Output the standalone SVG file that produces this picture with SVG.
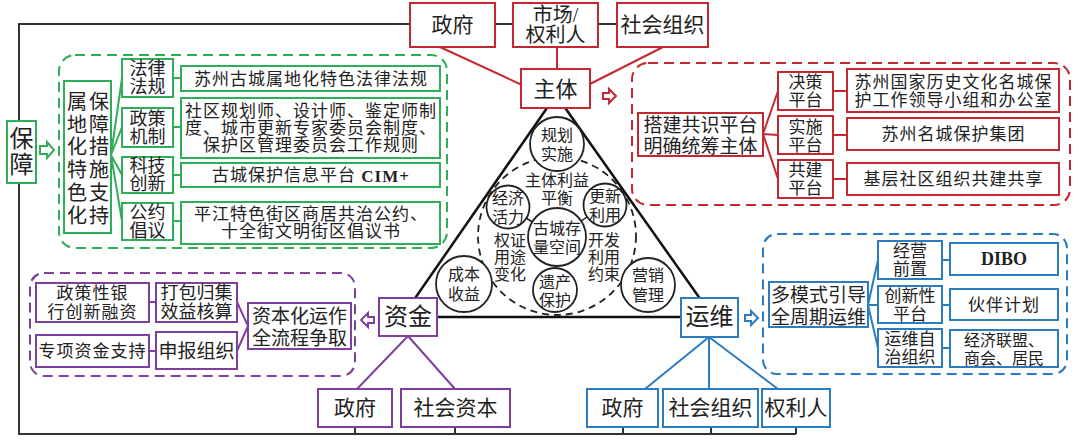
<svg xmlns="http://www.w3.org/2000/svg" width="1080" height="441" viewBox="0 0 1080 441">
<style>
text{font-family:"Liberation Serif","Noto Sans CJK SC",serif;fill:#222;text-anchor:middle;dominant-baseline:central}
.f24{font-size:24px}.f22{font-size:22px}.f21{font-size:21px}.f19{font-size:19px}.f18{font-size:18px}.f17{font-size:17px;letter-spacing:1px}.f16{font-size:16px}.fc{font-size:16px}.fs{font-size:17px}
.lat{font-family:"Liberation Serif",serif;font-weight:bold}
.g{fill:#fff;stroke:#2fae5a;stroke-width:2}
.r{fill:#fff;stroke:#c6282f;stroke-width:2}
.p{fill:#fff;stroke:#7e3f9e;stroke-width:2}
.b{fill:#fff;stroke:#2b7cc0;stroke-width:2}
.gd{fill:none;stroke:#2fae5a;stroke-width:2;stroke-dasharray:10 6}
.rd{fill:none;stroke:#c6282f;stroke-width:2;stroke-dasharray:10 6}
.pd{fill:none;stroke:#7e3f9e;stroke-width:2;stroke-dasharray:10 6}
.bd{fill:none;stroke:#2b7cc0;stroke-width:2;stroke-dasharray:10 6}
.gl{stroke:#2fae5a;stroke-width:2;fill:none}
.rl{stroke:#c6282f;stroke-width:2;fill:none}
.pl{stroke:#7e3f9e;stroke-width:2;fill:none}
.bl{stroke:#2b7cc0;stroke-width:2;fill:none}
.k{stroke:#333;stroke-width:2;fill:none}
.kc{fill:#fff;stroke:#222;stroke-width:1.8}
</style>

<g id="connectors">
  <path class="k" d="M410,24 H19 V434 H796"/>
  <path class="k" d="M495,24 H513 M598,24 H617 M355,427 V434 M455,427 V434 M623,427 V434 M711,427 V434 M796,427 V434"/>
  <polygon points="556,95 402,317 713,317" fill="none" stroke="#111" stroke-width="2.5"/>
  <circle cx="557" cy="236" r="79" fill="none" stroke="#222" stroke-width="1.8" stroke-dasharray="7 5"/>
  <path fill="none" stroke="#222" stroke-width="1.5" d="M508,207 L557,237 L605,205 M557,237 L555,290"/>
  <path class="rl" d="M440,47 L522,85 M557,47 V69 M663,47 L590,84"/>
  <path class="gl" d="M111,155 L122,78 M111,155 L122,127 M111,155 L122,175 M111,155 L122,221 M173,78 H181 M173,127 H181 M173,175 H181 M173,221 H181"/>
  <path class="rl" d="M763,134 L778,91 M763,134 L778,135 M763,134 L778,179 M833,91 H847 M833,135 H847 M833,179 H847"/>
  <path class="pl" d="M149,302 H156 M149,351 H156 M237,302 L248,326 M237,351 L248,326 M408,336 L357,389 M408,336 L455,389"/>
  <path class="bl" d="M868,305 L878,260 M868,305 H878 M868,305 L878,348 M942,260 H950 M942,305 H950 M942,348 H950 M709,337 L645,389 M709,337 V389 M709,337 L778,389"/>
  <polygon class="g" points="40,146 47,146 47,142 54,150 47,158 47,154 40,154"/>
  <polygon class="r" points="603,93 609,93 609,89 616,96 609,103 609,99 603,99"/>
  <polygon class="p" points="374,317 368,317 368,313 361,320 368,327 368,323 374,323"/>
  <polygon class="b" points="745,315 751,315 751,311 758,318 751,325 751,321 745,321"/>
</g>

<g id="baozhang">
  <rect class="g" x="7" y="121" width="29" height="62"/>
  <text class="f24"><tspan x="21.5" y="139">保</tspan><tspan x="21.5" y="165">障</tspan></text>
</g>
<g id="green-panel">
  <rect class="gd" x="59" y="55" width="388" height="193" rx="16"/>
</g>
<g id="g-main">
  <rect class="g" x="64" y="81" width="47" height="152"/>
  <text style="font-size:20px"><tspan x="77" y="102">属</tspan><tspan x="77" y="125">地</tspan><tspan x="77" y="147">化</tspan><tspan x="77" y="170">特</tspan><tspan x="77" y="193">色</tspan><tspan x="77" y="216">化</tspan></text>
  <text style="font-size:20px"><tspan x="99" y="102">保</tspan><tspan x="99" y="125">障</tspan><tspan x="99" y="147">措</tspan><tspan x="99" y="170">施</tspan><tspan x="99" y="193">支</tspan><tspan x="99" y="216">持</tspan></text>
</g>
<g id="g-fl">
  <rect class="g" x="122" y="59" width="51" height="38"/>
  <text class="f18"><tspan x="147.5" y="69">法律</tspan><tspan x="147.5" y="87">法规</tspan></text>
</g>
<g id="g-zc">
  <rect class="g" x="122" y="108" width="51" height="39"/>
  <text class="f18"><tspan x="147.5" y="118.5">政策</tspan><tspan x="147.5" y="136.5">机制</tspan></text>
</g>
<g id="g-kj">
  <rect class="g" x="122" y="157" width="51" height="36"/>
  <text class="f18"><tspan x="147.5" y="166">科技</tspan><tspan x="147.5" y="184">创新</tspan></text>
</g>
<g id="g-gy">
  <rect class="g" x="122" y="203" width="51" height="37"/>
  <text class="f18"><tspan x="147.5" y="212.5">公约</tspan><tspan x="147.5" y="230.5">倡议</tspan></text>
</g>
<g id="g-d1">
  <rect class="g" x="181" y="66" width="259" height="25"/>
  <text class="f17" x="311" y="79">苏州古城属地化特色法律法规</text>
</g>
<g id="g-d2">
  <rect class="g" x="181" y="98" width="259" height="60"/>
  <text class="f17"><tspan x="311" y="111">社区规划师、设计师、鉴定师制</tspan><tspan x="311" y="128">度、城市更新专家委员会制度、</tspan><tspan x="311" y="145">保护区管理委员会工作规则</tspan></text>
</g>
<g id="g-d3">
  <rect class="g" x="181" y="163" width="259" height="24"/>
  <text class="f17" x="311" y="175.5">古城保护信息平台 <tspan class="lat">CIM+</tspan></text>
</g>
<g id="g-d4">
  <rect class="g" x="181" y="202" width="259" height="42"/>
  <text class="f17"><tspan x="311" y="214">平江特色街区商居共治公约、</tspan><tspan x="311" y="231">十全街文明街区倡议书</tspan></text>
</g>

<g id="top-zf">
  <rect class="r" x="410" y="3" width="85" height="44"/>
  <text class="f21" x="452.5" y="25">政府</text>
</g>
<g id="top-sc">
  <rect class="r" x="513" y="3" width="85" height="44"/>
  <text style="font-size:20px"><tspan x="555.5" y="14.5">市场/</tspan><tspan x="555.5" y="35">权利人</tspan></text>
</g>
<g id="top-sh">
  <rect class="r" x="617" y="3" width="91" height="44"/>
  <text class="f21" x="662.5" y="25">社会组织</text>
</g>
<g id="zhuti">
  <rect class="r" x="521" y="69" width="69" height="39"/>
  <text class="f22" x="555.5" y="89">主体</text>
</g>

<g id="red-panel">
  <rect class="rd" x="632" y="63" width="438" height="142" rx="16"/>
</g>
<g id="r-main">
  <rect class="r" x="638" y="113" width="125" height="43"/>
  <text class="f19"><tspan x="700.5" y="124.5">搭建共识平台</tspan><tspan x="700.5" y="145.5">明确统筹主体</tspan></text>
</g>
<g id="r-jc">
  <rect class="r" x="778" y="72" width="55" height="38"/>
  <text class="fs"><tspan x="805.5" y="82">决策</tspan><tspan x="805.5" y="100">平台</tspan></text>
</g>
<g id="r-ss">
  <rect class="r" x="778" y="116" width="55" height="38"/>
  <text class="fs"><tspan x="805.5" y="126.5">实施</tspan><tspan x="805.5" y="144.5">平台</tspan></text>
</g>
<g id="r-gj">
  <rect class="r" x="778" y="160" width="55" height="38"/>
  <text class="fs"><tspan x="805.5" y="170">共建</tspan><tspan x="805.5" y="188">平台</tspan></text>
</g>
<g id="r-d1">
  <rect class="r" x="847" y="69" width="212" height="43"/>
  <text class="f17"><tspan x="953.5" y="82">苏州国家历史文化名城保</tspan><tspan x="953.5" y="99.5">护工作领导小组和办公室</tspan></text>
</g>
<g id="r-d2">
  <rect class="r" x="847" y="118" width="212" height="32"/>
  <text class="f17" x="953.5" y="134">苏州名城保护集团</text>
</g>
<g id="r-d3">
  <rect class="r" x="847" y="163" width="212" height="32"/>
  <text class="f17" x="953.5" y="179">基层社区组织共建共享</text>
</g>

<g id="triangle-core">
  <circle class="kc" cx="557" cy="144" r="27"/>
  <text class="fc"><tspan x="557" y="134.5">规划</tspan><tspan x="557" y="154">实施</tspan></text>
  <text class="fc"><tspan x="557" y="180">主体利益</tspan><tspan x="557" y="198">平衡</tspan></text>
  <circle class="kc" cx="508" cy="207" r="21.5"/>
  <text class="fc"><tspan x="508" y="197.5">经济</tspan><tspan x="508" y="216.5">活力</tspan></text>
  <circle class="kc" cx="605" cy="205" r="21.5"/>
  <text class="fc"><tspan x="605" y="196">更新</tspan><tspan x="605" y="215">利用</tspan></text>
  <circle class="kc" cx="557" cy="237" r="29"/>
  <text class="fc"><tspan x="557" y="227.5">古城存</tspan><tspan x="557" y="246.5">量空间</tspan></text>
  <text class="fc"><tspan x="510" y="240">权证</tspan><tspan x="510" y="257">用途</tspan><tspan x="510" y="274">变化</tspan></text>
  <text class="fc"><tspan x="604" y="240">开发</tspan><tspan x="604" y="257">利用</tspan><tspan x="604" y="274">约束</tspan></text>
  <circle class="kc" cx="464" cy="284" r="28"/>
  <text class="fc"><tspan x="464" y="274">成本</tspan><tspan x="464" y="294">收益</tspan></text>
  <circle class="kc" cx="555" cy="290" r="22"/>
  <text class="fc"><tspan x="555" y="281.5">遗产</tspan><tspan x="555" y="299.5">保护</tspan></text>
  <circle class="kc" cx="648" cy="285" r="27"/>
  <text class="fc"><tspan x="648" y="275">营销</tspan><tspan x="648" y="295">管理</tspan></text>
</g>

<g id="zijin">
  <rect class="p" x="379" y="298" width="58" height="38"/>
  <text class="f24" x="408" y="317">资金</text>
</g>
<g id="purple-panel">
  <rect class="pd" x="30" y="273" width="325" height="103" rx="14"/>
</g>
<g id="p-zc">
  <rect class="p" x="36" y="283" width="113" height="39"/>
  <text class="f17"><tspan x="92.5" y="293">政策性银</tspan><tspan x="92.5" y="312">行创新融资</tspan></text>
</g>
<g id="p-zx">
  <rect class="p" x="36" y="335" width="113" height="32"/>
  <text class="f17" x="92.5" y="351">专项资金支持</text>
</g>
<g id="p-db">
  <rect class="p" x="156" y="283" width="81" height="39"/>
  <text class="f18"><tspan x="196.5" y="293">打包归集</tspan><tspan x="196.5" y="312">效益核算</tspan></text>
</g>
<g id="p-sb">
  <rect class="p" x="156" y="332" width="81" height="37"/>
  <text class="f19" x="196.5" y="351">申报组织</text>
</g>
<g id="p-main">
  <rect class="p" x="248" y="303" width="103" height="46"/>
  <text class="f19"><tspan x="299.5" y="315.5">资本化运作</tspan><tspan x="299.5" y="337.5">全流程争取</tspan></text>
</g>
<g id="p-zf">
  <rect class="p" x="318" y="389" width="74" height="38"/>
  <text class="f21" x="355" y="408">政府</text>
</g>
<g id="p-sz">
  <rect class="p" x="401" y="389" width="109" height="38"/>
  <text class="f21" x="455.5" y="408">社会资本</text>
</g>

<g id="yunwei">
  <rect class="b" x="681" y="298" width="57" height="39"/>
  <text class="f24" x="709.5" y="317">运维</text>
</g>
<g id="blue-panel">
  <rect class="bd" x="763" y="234" width="304" height="140" rx="14"/>
</g>
<g id="b-main">
  <rect class="b" x="769" y="282" width="99" height="45"/>
  <text class="f19"><tspan x="818.5" y="294.5">多模式引导</tspan><tspan x="818.5" y="316.5">全周期运维</tspan></text>
</g>
<g id="b-jy">
  <rect class="b" x="878" y="241" width="64" height="38"/>
  <text class="fs"><tspan x="910" y="251">经营</tspan><tspan x="910" y="269">前置</tspan></text>
</g>
<g id="b-cx">
  <rect class="b" x="878" y="286" width="64" height="37"/>
  <text class="fs"><tspan x="910" y="296">创新性</tspan><tspan x="910" y="314">平台</tspan></text>
</g>
<g id="b-zz">
  <rect class="b" x="878" y="329" width="64" height="38"/>
  <text class="fs"><tspan x="910" y="339">运维自</tspan><tspan x="910" y="357">治组织</tspan></text>
</g>
<g id="b-dibo">
  <rect class="b" x="950" y="243" width="108" height="32"/>
  <text class="lat" style="font-size:18px" x="1004" y="259">DIBO</text>
</g>
<g id="b-hb">
  <rect class="b" x="950" y="289" width="108" height="31"/>
  <text class="f17" x="1004" y="305">伙伴计划</text>
</g>
<g id="b-jj">
  <rect class="b" x="950" y="330" width="108" height="37"/>
  <text class="f16"><tspan x="1004" y="339.5">经济联盟、</tspan><tspan x="1004" y="357.5">商会、居民</tspan></text>
</g>
<g id="b-zf">
  <rect class="b" x="587" y="389" width="71" height="38"/>
  <text class="f21" x="622.5" y="408">政府</text>
</g>
<g id="b-sh">
  <rect class="b" x="663" y="389" width="95" height="38"/>
  <text class="f21" x="710.5" y="408">社会组织</text>
</g>
<g id="b-ql">
  <rect class="b" x="762" y="389" width="68" height="38"/>
  <text class="f21" x="796" y="408">权利人</text>
</g>
</svg>
